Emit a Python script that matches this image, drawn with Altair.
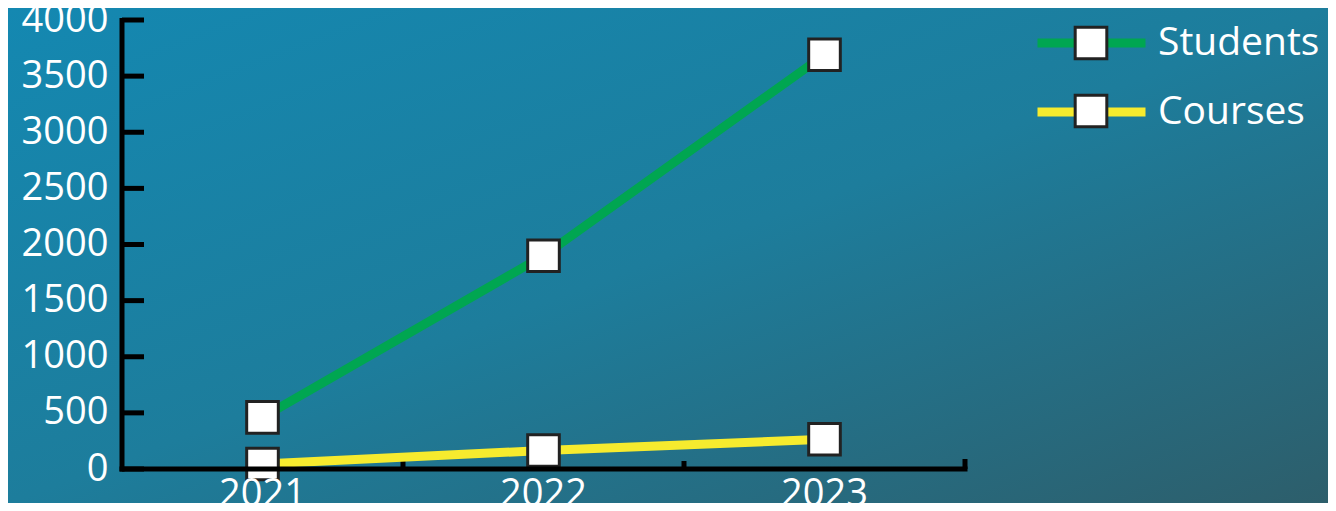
import altair as alt
import pandas as pd

# ---- data ----
years = ["2021", "2022", "2023"]
students = [460, 1900, 3690]
courses = [45, 165, 265]
series_names = ["Students", "Courses"]
series_colors = ["#00a651", "#f6eb2e"]
y_ticks = [0, 500, 1000, 1500, 2000, 2500, 3000, 3500, 4000]

W, H = 843, 449
PAD = {"left": 114, "top": 12, "right": 363, "bottom": 34}
FONT = "Open Sans"
FS = 38

rows = []
for name, vals in zip(series_names, [students, courses]):
    for yr, v in zip(years, vals):
        rows.append({"series": name, "series_s": name, "year": yr, "value": v})
df = pd.DataFrame(rows)

x_scale = alt.Scale(type="band", domain=years, paddingInner=0, paddingOuter=0)
y_scale = alt.Scale(domain=[0, 4000], nice=False, zero=True)

x_axis = alt.Axis(domain=False, ticks=False, grid=False, labelColor="white",
                  labelFont=FONT, labelFontSize=FS, labelPadding=6, labelAngle=0,
                  title=None, zindex=1)
y_axis = alt.Axis(domain=False, ticks=False, grid=False, labelColor="white",
                  labelFont=FONT, labelFontSize=FS, labelPadding=14, values=y_ticks,
                  format="d", title=None, zindex=1)

gradient = alt.LinearGradient(
    gradient="linear",
    stops=[alt.GradientStop(color="#1488b1", offset=0),
           alt.GradientStop(color="#1d7d9c", offset=0.5),
           alt.GradientStop(color="#2d5e6b", offset=1)],
    x1=0, y1=0, x2=1, y2=1,
)

bg = alt.Chart(pd.DataFrame({"a": [0]})).mark_rect(fill=gradient).encode(
    x=alt.value(-PAD["left"]), x2=alt.value(W + PAD["right"]),
    y=alt.value(-PAD["top"]), y2=alt.value(H + PAD["bottom"]),
)

# axis lines
y_dom = alt.Chart(pd.DataFrame({"a": [0]})).mark_rule(color="black", strokeWidth=5).encode(
    x=alt.value(0), y=alt.value(-2), y2=alt.value(H + 2.5))
x_dom = alt.Chart(pd.DataFrame({"a": [0]})).mark_rule(color="black", strokeWidth=5).encode(
    y=alt.value(H), x=alt.value(-2.5), x2=alt.value(W + 2.5))

# y ticks pointing inward
y_tick_df = pd.DataFrame({"value": y_ticks})
y_tk = alt.Chart(y_tick_df).mark_rule(color="black", strokeWidth=5).encode(
    y=alt.Y("value:Q", scale=y_scale, axis=y_axis),
    x=alt.value(0), x2=alt.value(22))

# x ticks at band edges pointing up
xt_df = pd.DataFrame({"year": years[1:]})
x_tk = alt.Chart(xt_df).mark_rule(color="black", strokeWidth=5).encode(
    x=alt.X("year:N", scale=x_scale, axis=x_axis, bandPosition=0),
    y=alt.value(H), y2=alt.value(H - 8))
xt_end = alt.Chart(pd.DataFrame({"year": years[-1:]})).mark_rule(color="black", strokeWidth=5).encode(
    x=alt.X("year:N", scale=x_scale, axis=x_axis, bandPosition=1),
    y=alt.value(H), y2=alt.value(H - 10))

lines = alt.Chart(df).mark_line(strokeWidth=9, strokeCap="round").encode(
    x=alt.X("year:N", scale=x_scale, axis=x_axis),
    y=alt.Y("value:Q", scale=y_scale, axis=y_axis),
    color=alt.Color("series:N",
                    scale=alt.Scale(domain=series_names, range=series_colors),
                    legend=alt.Legend(orient="none", legendX=911, legendY=5, title=None,
                                      symbolType="stroke", symbolStrokeWidth=9,
                                      symbolSize=11664, labelColor="white", labelFont=FONT,
                                      labelFontSize=39, labelOffset=8, labelLimit=400,
                                      padding=0, clipHeight=36, rowPadding=30, zindex=1)),
)

points = alt.Chart(df).mark_point(filled=True, fill="white", stroke="#222222",
                                  strokeWidth=3, size=1000, opacity=1).encode(
    x=alt.X("year:N", scale=x_scale, axis=x_axis),
    y=alt.Y("value:Q", scale=y_scale, axis=y_axis),
    shape=alt.Shape("series_s:N",
                    scale=alt.Scale(range=["square", "square"]),
                    legend=alt.Legend(orient="none", legendX=950, legendY=5, title=None,
                                      symbolFillColor="white",
                                      symbolStrokeWidth=3, symbolSize=1000, symbolOpacity=1,
                                      labelExpr="''", labelFontSize=FS, labelFont=FONT,
                                      padding=0, clipHeight=36, rowPadding=30, zindex=2)),
)

chart = alt.layer(bg, y_tk, x_tk, xt_end, lines, points, y_dom, x_dom).properties(
    width=W, height=H,
    autosize=alt.AutoSizeParams(type="none"),
    padding=PAD,
    background="#1d7b9a",
).configure_view(stroke=None)

chart.save("out.html", embed_options={"renderer": "svg", "actions": False})
